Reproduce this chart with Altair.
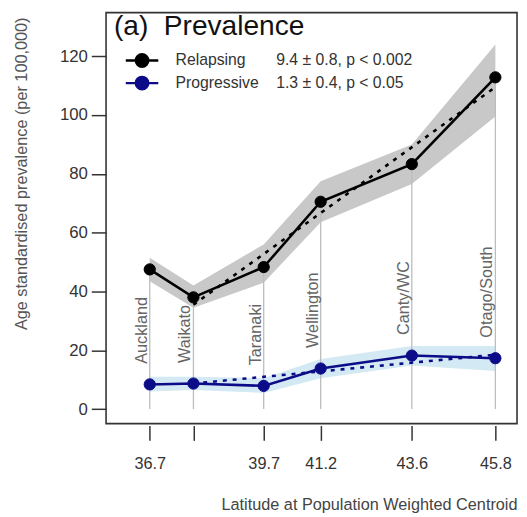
import altair as alt
import pandas as pd

# ---- data ----
regions = ["Auckland", "Waikato", "Taranaki", "Wellington", "Canty/WC", "Otago/South"]
latitude = [36.7, 37.85, 39.7, 41.2, 43.6, 45.8]
unlabeled_lat = [37.85]

relapsing = [47.5, 38.0, 48.3, 70.5, 83.3, 112.8]
relapsing_lo = [43.5, 34.5, 43.0, 63.5, 76.5, 99.5]
relapsing_hi = [51.5, 42.0, 56.0, 77.5, 90.0, 124.0]

progressive = [8.4, 8.7, 7.9, 13.8, 18.2, 17.3]
progressive_lo = [6.0, 6.5, 5.5, 10.5, 14.8, 13.0]
progressive_hi = [11.0, 11.0, 10.5, 17.0, 21.5, 21.5]

fit_lat = [37.85, 45.8]
relapsing_fit = [35.5, 109.5]
progressive_fit = [8.7, 18.5]

series = ["Relapsing", "Progressive"]
colors = ["#000000", "#0c0c88"]
band_colors = ["#c8c8c8", "#d3e9f3"]
stats = ["9.4 \u00b1 0.8, p < 0.002", "1.3 \u00b1 0.4, p < 0.05"]
name_gap = [7, 4]  # non-breaking spaces between name and statistics

y_ticks = [0, 20, 40, 60, 80, 100, 120]

# ---- tables ----
rows = []
for i, r in enumerate(regions):
    rows.append(dict(region=r, lat=latitude[i], series=series[0], value=relapsing[i],
                     lo=relapsing_lo[i], hi=relapsing_hi[i]))
    rows.append(dict(region=r, lat=latitude[i], series=series[1], value=progressive[i],
                     lo=progressive_lo[i], hi=progressive_hi[i]))
long = pd.DataFrame(rows)
wide = pd.DataFrame(dict(region=regions, lat=latitude, rel=relapsing, prog=progressive,
                         zero=[0] * len(regions)))
fit_rows = []
for j in range(len(fit_lat)):
    fit_rows.append(dict(series=series[0], lat=fit_lat[j], value=relapsing_fit[j]))
    fit_rows.append(dict(series=series[1], lat=fit_lat[j], value=progressive_fit[j]))
fit = pd.DataFrame(fit_rows)

FONT = "Liberation Sans"

xs = alt.Scale(domain=[35.55, 46.37], nice=False, zero=False)
ys = alt.Scale(domain=[-4.93, 134.8], nice=False, zero=False)

unl = "[" + ",".join(str(v) for v in unlabeled_lat) + "]"
xaxis = alt.Axis(
    values=latitude, labelExpr=f"indexof({unl}, datum.value) >= 0 ? '' : format(datum.value, '.1f')",
    tickSize=15, offset=2, domain=False, grid=False, labelPadding=16,
    labelFontSize=16.5, labelColor="#333", tickColor="#333", tickWidth=1.5,
    title="Latitude at Population Weighted Centroid", titleFontSize=16.5,
    titleFontWeight="normal", titleColor="#444", titleX=417, titleY=80,
    titleAlign="right", titleBaseline="middle", titleAnchor="end",
)
yaxis = alt.Axis(
    values=y_ticks, tickSize=15, labelPadding=4, domain=False, grid=False,
    labelFontSize=17, labelColor="#333", tickColor="#333", tickWidth=1.5,
    title="Age standardised prevalence (per 100,000)", titleFontSize=16.5,
    titleFontWeight="normal", titleColor="#555", titleX=-85.5, titleY=163,
    titleAngle=270, titleAlign="center", titleBaseline="middle",
)

X = alt.X("lat:Q", scale=xs, axis=xaxis, title="Latitude at Population Weighted Centroid")
YT = "Age standardised prevalence (per 100,000)"

def Y(field):
    return alt.Y(field, scale=ys, axis=yaxis, title=YT)

layers = []
# confidence bands
for s, bc in zip(series, band_colors):
    layers.append(
        alt.Chart(long).transform_filter(alt.datum.series == s)
        .mark_area(color=bc, opacity=1)
        .encode(x=X, y=Y("lo:Q"), y2="hi:Q")
    )
# vertical guide lines
layers.append(
    alt.Chart(wide).mark_rule(color="#bdbdbd", strokeWidth=1.3)
    .encode(x=X, y=Y("zero:Q"), y2="rel:Q")
)
# region labels
layers.append(
    alt.Chart(wide).transform_calculate(label_y="datum.prog + 7")
    .mark_text(angle=270, align="left", baseline="bottom", fontSize=16.5,
               color="#666", font=FONT)
    .encode(x=X, y=Y("label_y:Q"), text="region:N")
)
# observed lines
for s, c in zip(series, colors):
    layers.append(
        alt.Chart(long).transform_filter(alt.datum.series == s)
        .mark_line(color=c, strokeWidth=2.6)
        .encode(x=X, y=Y("value:Q"))
    )
# fitted (dashed) lines
for s, c in zip(series, colors):
    layers.append(
        alt.Chart(fit).transform_filter(alt.datum.series == s)
        .mark_line(color=c, strokeWidth=2.6, strokeDash=[4, 6])
        .encode(x=X, y=Y("value:Q"))
    )

# legend labels with statistics
nb = "\u00a0"
label_expr = " : ".join(
    [f"datum.label == '{s}' ? '{s}{nb * g}{st}'" for s, g, st in zip(series, name_gap, stats)]
    + ["datum.label"]
)
sym_path = ("M-1.784,0L1.784,0M-0.681,0A0.681,0.681,0,1,1,0.681,0A0.681,0.681,0,1,1,-0.681,0Z")
leg = alt.Legend(
    orient="none", legendX=26, legendY=38, title=None, symbolType=sym_path,
    symbolSize=342, symbolStrokeWidth=2.5, symbolOpacity=1, labelFontSize=16,
    labelColor="#333", labelFont=FONT, labelOffset=23.5, rowPadding=0, padding=0,
    labelLimit=400, labelExpr=label_expr,
)
cscale = alt.Scale(domain=series, range=colors)
layers.append(
    alt.Chart(long).mark_point(filled=True, size=130, strokeWidth=1, opacity=1)
    .encode(
        x=X, y=Y("value:Q"),
        fill=alt.Fill("series:N", scale=cscale, legend=leg),
        stroke=alt.Stroke("series:N", scale=cscale, legend=leg),
    )
)

chart = (
    alt.layer(*layers)
    .properties(
        width=417, height=417,
        padding={"left": 99.5, "top": 1, "right": 2, "bottom": 88},
        autosize=alt.AutoSizeParams(type="none"),
        title=alt.TitleParams(
            "(a)\u00a0\u00a0Prevalence", anchor="start", frame="group", fontSize=28.5,
            fontWeight="normal", color="#111", font=FONT, offset=-26,
            baseline="alphabetic", dx=8, dy=25,
        ),
    )
    .configure(font=FONT)
    .configure_view(stroke="#333", strokeWidth=1.6)
)

chart.save("out.html", embed_options={"renderer": "svg", "actions": False})
